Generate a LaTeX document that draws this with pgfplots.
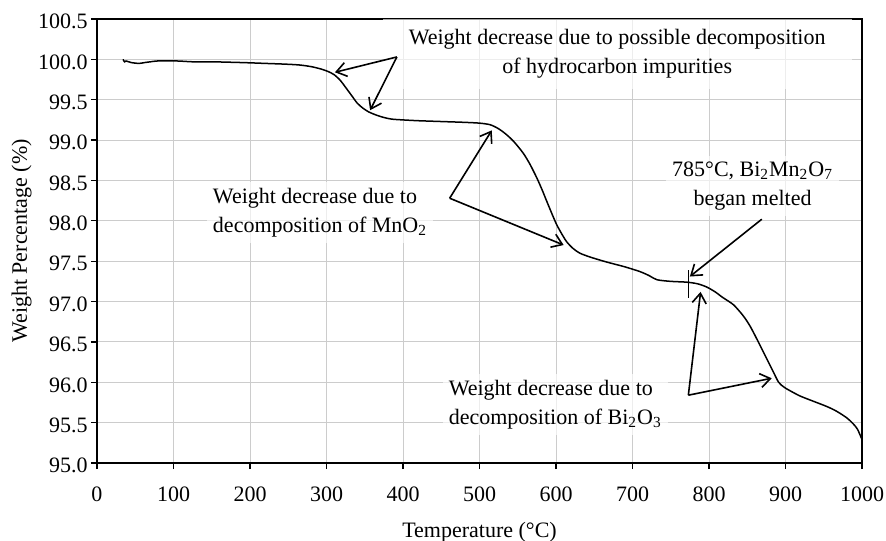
\documentclass[border=0pt]{standalone}
\usepackage{fontspec}
\setmainfont{Liberation Serif}
\usepackage{pgfplots}
\pgfplotsset{compat=1.18}
\usetikzlibrary{arrows.meta}

\tikzset{
  note/.style={font=\fontsize{11}{14.5}\selectfont, fill=white, fill opacity=0.65, text opacity=1, inner sep=3pt},
  pointer/.style={-{Straight Barb[length=5pt,width=7pt]}, line width=0.8pt, black}
}

\begin{document}
\begin{tikzpicture}
\useasboundingbox (-48.5pt,-38.5pt) rectangle (394.5pt,231.5pt);
\begin{axis}[
    at={(0,0)}, anchor=south west,
    scale only axis,
    width=382.5pt, height=222pt,
    xmin=0, xmax=1000,
    ymin=95, ymax=100.5,
    xtick={0,100,200,300,400,500,600,700,800,900,1000},
    ytick={95,95.5,96,96.5,97,97.5,98,98.5,99,99.5,100,100.5},
    xtick pos=bottom, ytick pos=left,
    tick align=outside,
    major tick length=3pt,
    tick style={black, line width=0.6pt},
    grid=major,
    major grid style={gray!40, line width=0.5pt},
    axis line style={line width=1pt},
    font=\fontsize{11}{13}\selectfont,
    /pgf/number format/assume math mode=true,
    /pgf/number format/1000 sep={},
    yticklabel={\pgfmathprintnumber[fixed,fixed zerofill,precision=1]{\tick}},
    xticklabel style={anchor=base, yshift=-16pt},
    yticklabel style={anchor=east, inner sep=0pt, xshift=-1.5pt, yshift=-1.3pt},
    xlabel={Temperature (°C)},
    ylabel={Weight Percentage (\%)},
    xlabel style={at={(axis description cs:0.5,-0.1667)}, anchor=base},
    ylabel style={at={(axis description cs:-0.0915,0.5)}, anchor=base},
]
\addplot[black, line width=0.75pt, smooth, tension=0.45] coordinates {
  (34,100.00) (36,99.97) (38,99.98) (45,99.96) (55,99.95) (62,99.96)
  (70,99.97) (79,99.98) (105,99.98) (125,99.97) (150,99.97) (191,99.96)
  (220,99.95) (248,99.94) (265,99.93) (280,99.91) (293,99.88) (302,99.85)
  (310,99.81) (318,99.74) (326,99.64) (333,99.55) (340,99.46) (347,99.40)
  (355,99.35) (365,99.31) (375,99.28) (385,99.26) (400,99.25) (420,99.24)
  (450,99.23) (480,99.22) (500,99.21) (514,99.19) (525,99.14) (535,99.07)
  (545,98.98) (557,98.84) (566,98.70) (575,98.53) (582,98.38) (588,98.24)
  (595,98.08) (601,97.95) (608,97.83) (614,97.74) (622,97.66) (631,97.60)
  (645,97.55) (666,97.49) (690,97.43) (710,97.37) (722,97.32) (732,97.27)
  (750,97.25) (771,97.24) (785,97.22) (797,97.18) (808,97.12) (818,97.05)
  (832,96.96) (845,96.82) (854,96.69) (865,96.49) (875,96.30) (884,96.13)
  (891,96.00) (898,95.94) (905,95.90) (919,95.83) (935,95.77) (954,95.70)
  (967,95.64) (980,95.56) (988,95.49) (994,95.42) (1000,95.29)
};

% text boxes
\node[note, minimum width=234.5pt, minimum height=35pt, align=center]
  at (axis cs:680,100.07) {Weight decrease due to possible decomposition\\of hydrocarbon impurities};
\node[note, align=left] at (axis cs:291.5,98.10)
  {Weight decrease due to\\decomposition of MnO\textsubscript{2}};
\node[note, align=center] at (axis cs:857,98.43)
  {785°C, Bi\textsubscript{2}Mn\textsubscript{2}O\textsubscript{7}\\began melted};
\node[note, align=left] at (axis cs:599,95.72)
  {Weight decrease due to\\decomposition of Bi\textsubscript{2}O\textsubscript{3}};

% pointers
\draw[pointer] (axis cs:392,100.03) -- (axis cs:311,99.84);
\draw[pointer] (axis cs:392,100.03) -- (axis cs:357,99.37);
\draw[pointer] (axis cs:461,98.28) -- (axis cs:516,99.12);
\draw[pointer] (axis cs:461,98.28) -- (axis cs:610,97.70);
\draw[pointer] (axis cs:869,98.02) -- (axis cs:775,97.31);
\draw[black, line width=0.6pt] (axis cs:773,97.05) -- (axis cs:773,97.39);
\draw[pointer] (axis cs:773,95.84) -- (axis cs:789,97.12);
\draw[pointer] (axis cs:773,95.84) -- (axis cs:882,96.05);
\end{axis}
\end{tikzpicture}
\end{document}
